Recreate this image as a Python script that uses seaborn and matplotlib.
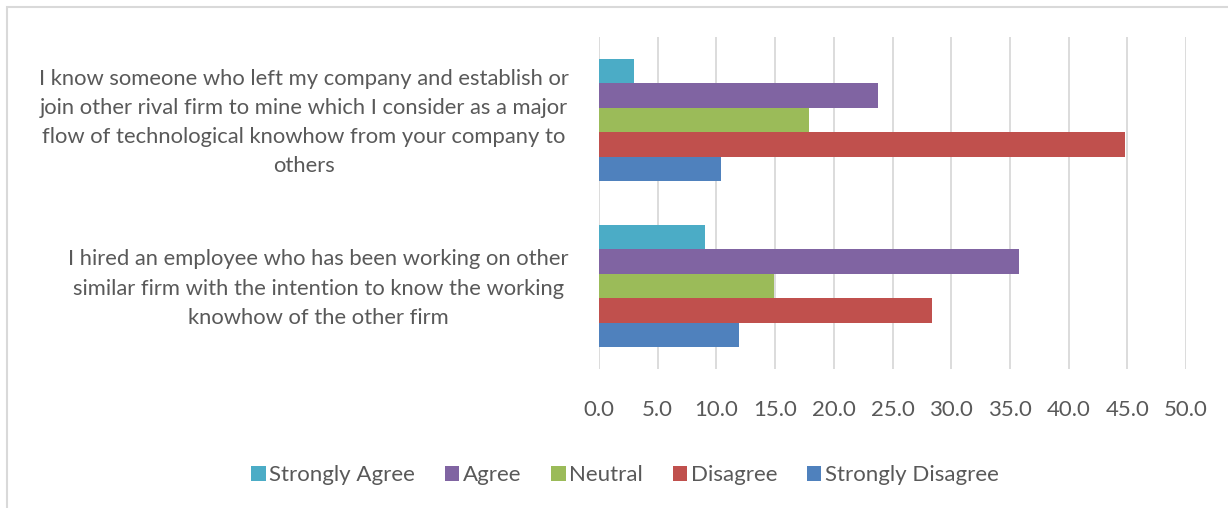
import matplotlib
matplotlib.use("Agg")
import matplotlib.pyplot as plt
from matplotlib.patches import Rectangle, Patch
from matplotlib.transforms import ScaledTranslation
import seaborn as sns
import pandas as pd

# Survey statements (y categories)
statements = [
    "I know someone who left my company and establish or\n"
    "join other rival firm to mine which I consider as a major\n"
    "flow of technological knowhow from your company to\n"
    "others",
    "I hired an employee who has been working on other\n"
    "similar firm with the intention to know the working\n"
    "knowhow of the other firm",
]

# Response scale and share of answers (%) for each statement
responses = ["Strongly Agree", "Agree", "Neutral", "Disagree", "Strongly Disagree"]
strongly_agree = [3.0, 9.0]
agree = [23.8, 35.8]
neutral = [17.9, 14.9]
disagree = [44.8, 28.4]
strongly_disagree = [10.4, 11.9]

colors = ["#4BACC6", "#8064A2", "#9BBB59", "#C0504D", "#4F81BD"]
tick_values = [0, 5, 10, 15, 20, 25, 30, 35, 40, 45, 50]

series = [strongly_agree, agree, neutral, disagree, strongly_disagree]
rows = []
for resp, vals in zip(responses, series):
    for stmt, v in zip(statements, vals):
        rows.append({"statement": stmt, "response": resp, "percent": v})
df = pd.DataFrame(rows)

sns.set_theme(style="white")
plt.rcParams["font.family"] = ["Lato", "DejaVu Sans"]
text_color = "#595959"
grid_color = "#D9D9D9"

W, H = 1228, 508
fig = plt.figure(figsize=(W / 100, H / 100), dpi=100)
ax = fig.add_axes([599 / W, 1 - 369 / H, (1186 - 599) / W, (369 - 37) / H])

sns.barplot(
    data=df, x="percent", y="statement", hue="response",
    hue_order=responses, order=statements, palette=colors,
    orient="h", width=0.735, linewidth=0, saturation=1,
    legend=False, ax=ax,
)

ax.set_xlim(0, 50)
ax.set_xticks(tick_values)
ax.set_xticklabels([f"{t:.1f}" for t in tick_values])
ax.xaxis.grid(True, color=grid_color, linewidth=1.3)
ax.set_axisbelow(True)
for s in ax.spines.values():
    s.set_visible(False)
ax.set_xlabel("")
ax.set_ylabel("")
ax.tick_params(axis="x", length=0, pad=22, labelsize=16, labelcolor=text_color)
ax.tick_params(axis="y", length=0, pad=22, labelsize=15.8, labelcolor=text_color)
lift = ScaledTranslation(0, 4 / 100, fig.dpi_scale_trans)
for lbl in ax.get_yticklabels():
    lbl.set_multialignment("center")
    lbl.set_linespacing(1.57)
    lbl.set_transform(lbl.get_transform() + lift)

handles = [Patch(facecolor=c, edgecolor="none") for c in colors]
fig.legend(
    handles, responses, loc="center", bbox_to_anchor=(625 / W, 1 - 475 / H),
    ncol=5, frameon=False, fontsize=16, labelcolor=text_color,
    handlelength=0.65, handleheight=0.65, handletextpad=0.15,
    columnspacing=1.35,
)

# light chart-area border
fig.patches.append(Rectangle((7 / W, -0.1), 1.2, 1 - 7.5 / H + 0.1,
                             transform=fig.transFigure, fill=False,
                             edgecolor=grid_color, linewidth=1.5))

fig.savefig("out.png", dpi=100, facecolor="white")
